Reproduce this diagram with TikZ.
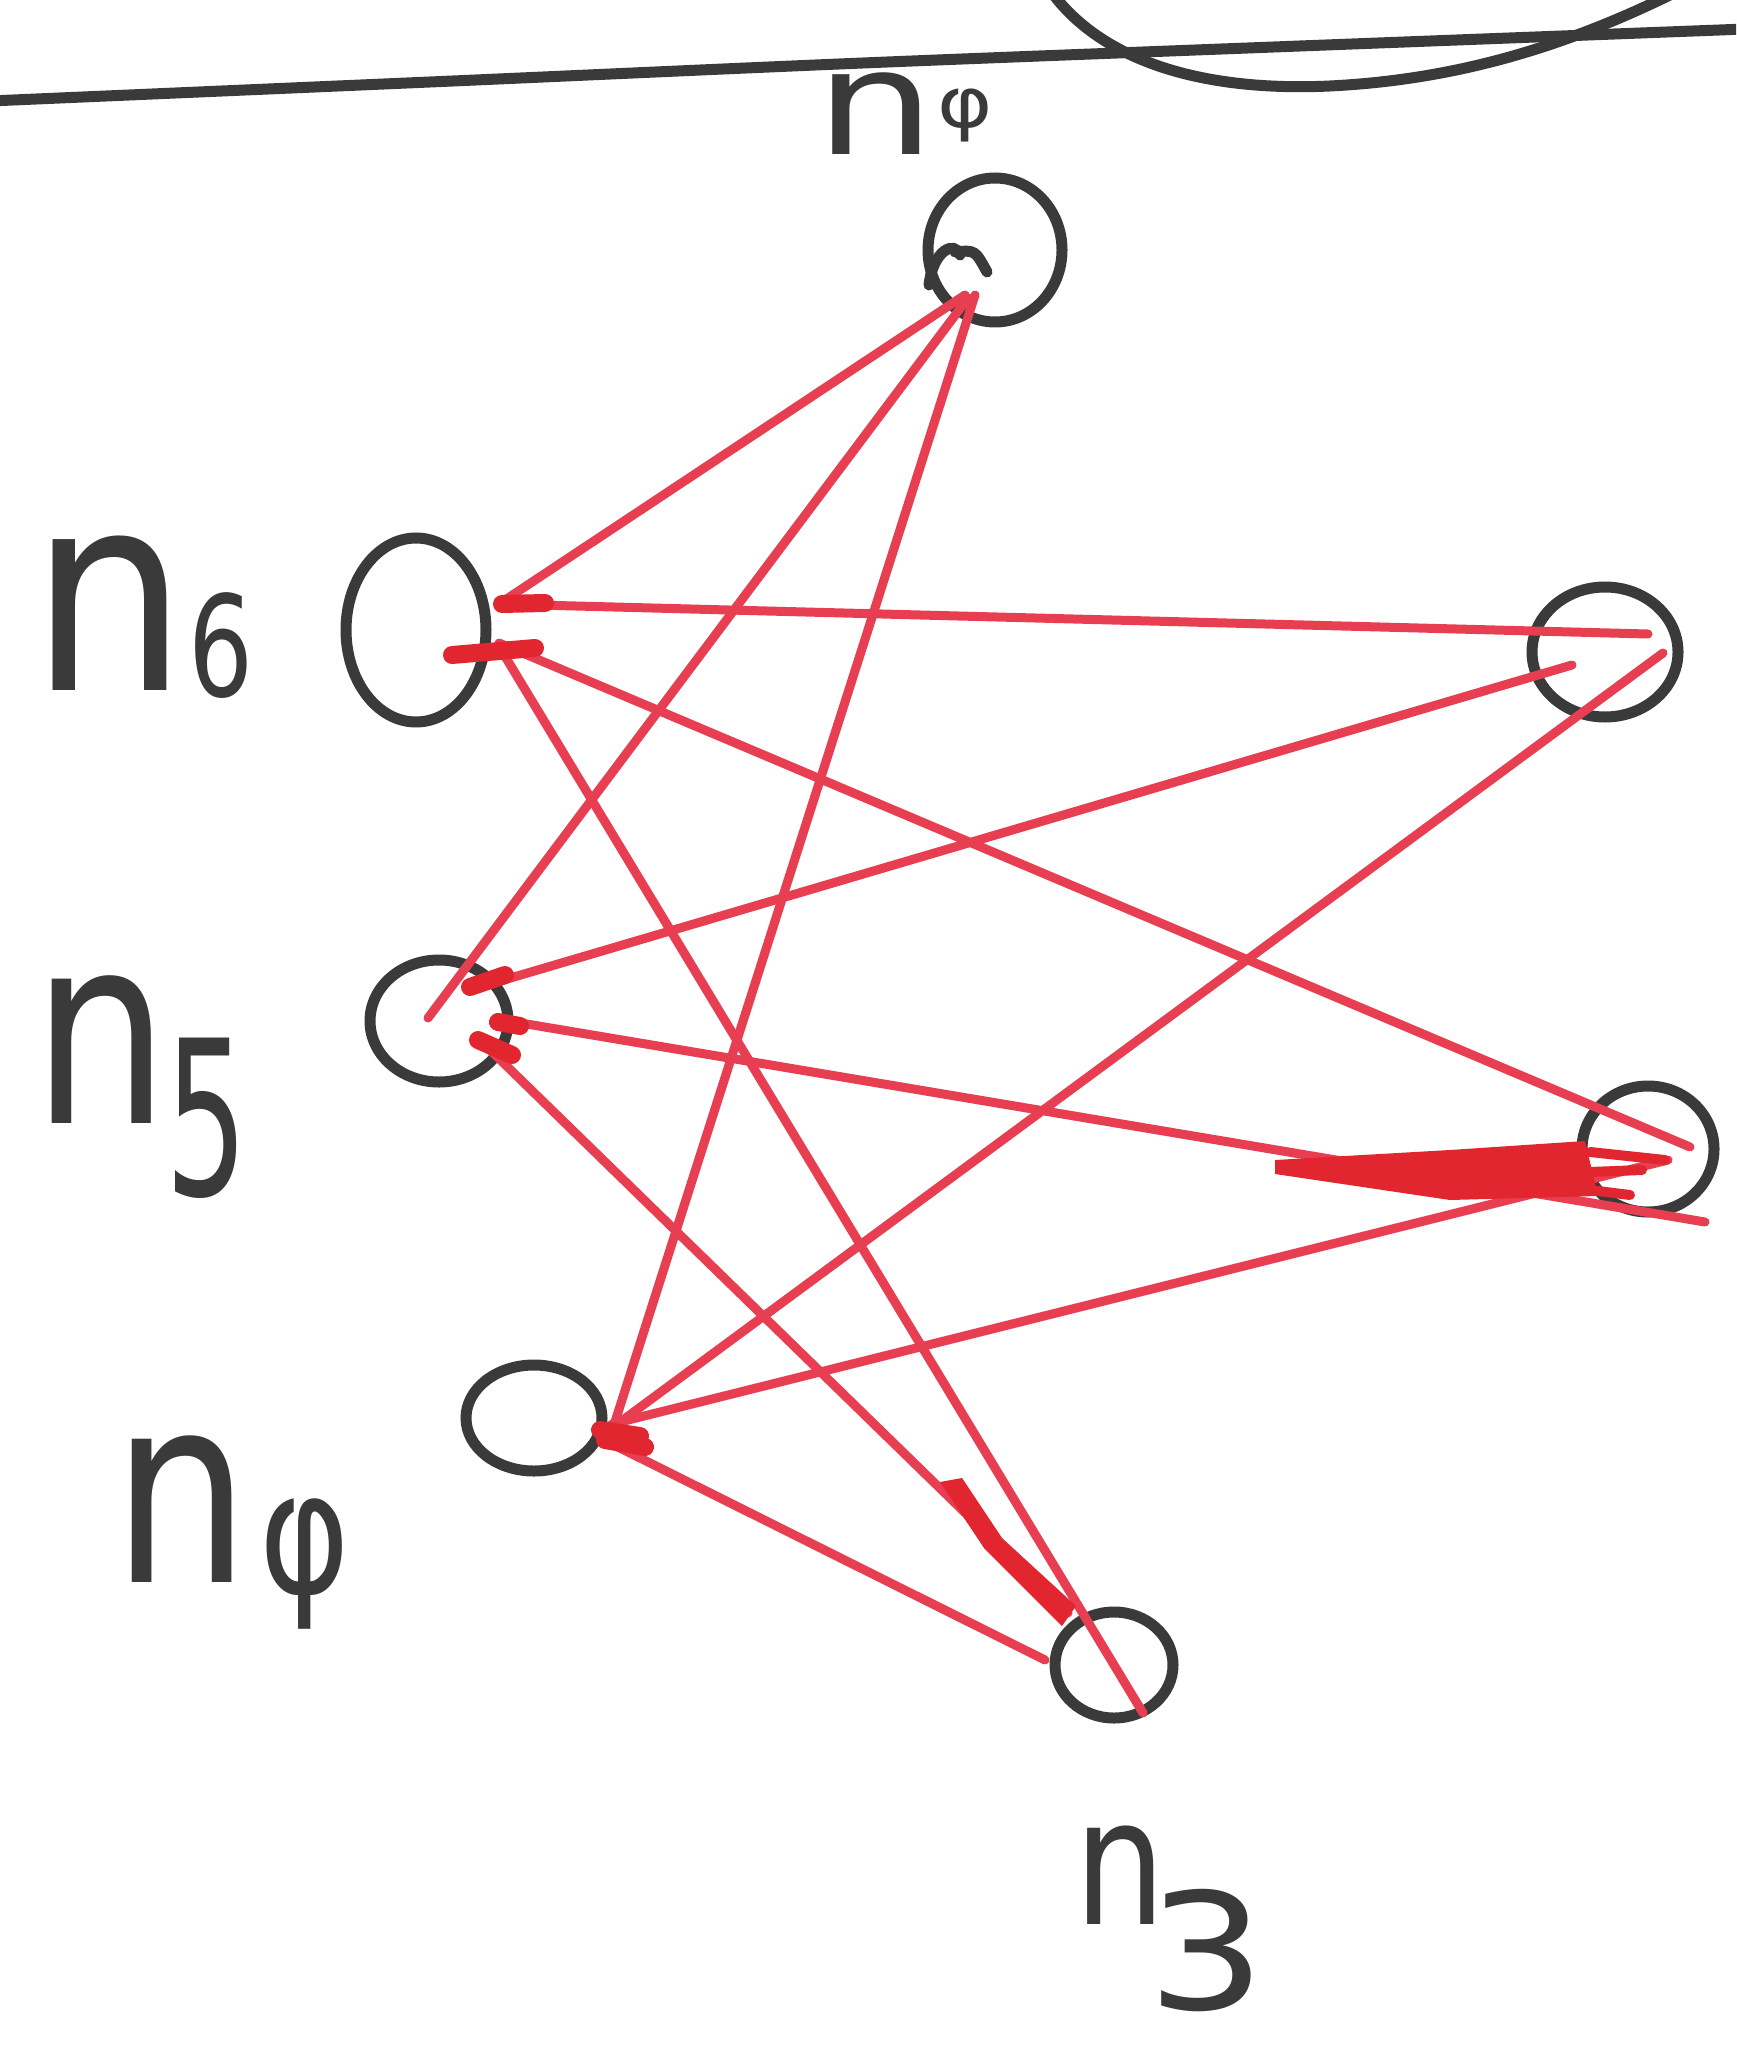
\documentclass[tikz,border=0pt]{standalone}
\usepackage{fontspec}
\usepackage{graphicx}
\usetikzlibrary{shapes.geometric,calc}
\newfontfamily\hand{DejaVu Sans}
\definecolor{ink}{RGB}{58,58,58}
\definecolor{redink}{RGB}{232,62,82}
\definecolor{blobink}{RGB}{226,38,48}
\begin{document}
\begin{tikzpicture}[x=0.5pt,y=-0.5pt,
  vert/.style={ellipse,draw=ink,line width=5.5pt,inner sep=0pt},
  edge/.style={draw=redink,line width=4.5pt,line cap=round},
  blob/.style={draw=blobink,line width=9pt,line cap=round},
  blobfill/.style={fill=blobink},
  lbl/.style={inner sep=0pt,anchor=base west,text=ink,font=\hand},
  pen/.style={draw=ink,line width=5.5pt,line cap=round}]
\useasboundingbox (0,0) rectangle (1736,2059);
\fill[white] (0,0) rectangle (1736,2059);
\clip (0,0) rectangle (1736,2059);
% top line and curve
\draw[pen] plot[smooth] coordinates {(-10,101) (430,82) (863,63) (1300,46) (1746,29)};
\draw[pen] (1050,-10) .. controls (1100,60) and (1200,92) .. (1330,86) .. controls (1450,80) and (1560,50) .. (1680,-10);
% vertices
\node[vert,minimum width=67pt,minimum height=72pt] (T)  at (995,250)  {};
\node[vert,minimum width=70pt,minimum height=92pt] (L6) at (416,630)  {};
\node[vert,minimum width=69pt,minimum height=61pt] (L5) at (439,1021) {};
\node[vert,minimum width=68pt,minimum height=53pt] (L4) at (534,1418) {};
\node[vert,minimum width=73pt,minimum height=65pt] (R1) at (1605,652) {};
\node[vert,minimum width=66pt,minimum height=63pt] (R2) at (1648,1149) {};
\node[vert,minimum width=59pt,minimum height=53pt] (B)  at (1114,1665) {};
% pen hook inside the top vertex
\draw[pen] ($(T)+(-66,35)$) .. controls ($(T)+(-62,0)$) and ($(T)+(-40,-10)$) .. ($(T)+(-35,5)$);
\draw[pen] ($(T)+(-40,2)$) .. controls ($(T)+(-20,0)$) .. ($(T)+(-8,22)$);
% labels
\node[lbl] (lT) at (815,155) {\scalebox{1.3}[1]{\fontsize{73}{73}\selectfont n}\hspace{1pt}\raisebox{13.5pt}{\scalebox{1.2}[1]{\fontsize{35}{35}\selectfont φ}}};
\node[lbl] (l6) at (30,690) {\scalebox{0.9}[1]{\fontsize{138}{138}\selectfont n}\hspace{0.5pt}\raisebox{-3pt}{\scalebox{0.73}[1]{\fontsize{70}{70}\selectfont 6}}};
\node[lbl] (l5) at (32,1123) {\scalebox{0.82}[1]{\fontsize{132}{132}\selectfont n}\hspace{-2pt}\raisebox{-36pt}{\scalebox{0.6}[1]{\fontsize{108}{108}\selectfont 5}}};
\node[lbl] (l4) at (112,1582) {\scalebox{0.83}[1]{\fontsize{131}{131}\selectfont n}\hspace{4.5pt}\raisebox{-5.5pt}{\scalebox{0.8}[1]{\fontsize{86}{86}\selectfont φ}}};
\node[lbl] (l3) at (1074,1924) {\scalebox{0.82}[1]{\fontsize{88}{88}\selectfont n}\hspace{-9pt}\raisebox{-42.5pt}{\scalebox{1.15}[1]{\fontsize{81}{81}\selectfont 3}}};
% edges
\draw[edge] ($(T)+(-30,45)$) -- ($(L6)+(83,-26)$);
\draw[edge] ($(T)+(-27,48)$) -- ($(L5)+(-11,-3)$);
\draw[edge] ($(T)+(-20,45)$) -- ($(L4)+(80,7)$);
\draw[edge] ($(L6)+(83,-26)$) -- ($(R1)+(43,-18)$);
\draw[edge] ($(L6)+(83,13)$) -- ($(R2)+(42,-2)$);
\draw[edge] ($(L6)+(84,18)$) -- ($(B)+(29,48)$);
\draw[edge] ($(R1)+(-33,13)$) -- ($(L5)+(41,-34)$);
\draw[edge] ($(R1)+(58,1)$) -- ($(L4)+(78,10)$);
\draw[edge] ($(L5)+(64,-1)$) -- ($(R2)+(57,73)$);
\draw[edge] ($(L5)+(44,22)$) -- ($(B)+(-46,-52)$);
\draw[edge] ($(L4)+(78,6)$) -- ($(R2)+(20,11)$);
\draw[edge] ($(L4)+(70,22)$) -- ($(B)+(-69,-5)$);
% heavy marker strokes where the pen lingered
\fill[blobfill] (1275,1160) -- (1450,1150) -- (1585,1141) -- (1598,1196) -- (1450,1200) -- (1275,1174) -- cycle;
\draw[blob,line width=5pt] (1590,1152) -- (1665,1160);
\draw[blob,line width=5pt] (1590,1172) -- (1642,1170);
\draw[blob,line width=5pt] (1590,1190) -- (1630,1195);
\fill[blobfill] (940,1482) -- (962,1478) -- (1002,1538) -- (1076,1606) -- (1062,1626) -- (984,1548) -- cycle;
\draw[blob] (452,655) -- (535,648);
\draw[blob] (502,604) -- (545,603);
\draw[blob] (470,987) -- (505,975);
\draw[blob] (498,1022) -- (520,1026);
\draw[blob] (478,1040) -- (512,1055);
\draw[blob] (600,1430) -- (640,1436);
\draw[blob] (605,1440) -- (645,1447);
\end{tikzpicture}
\end{document}
